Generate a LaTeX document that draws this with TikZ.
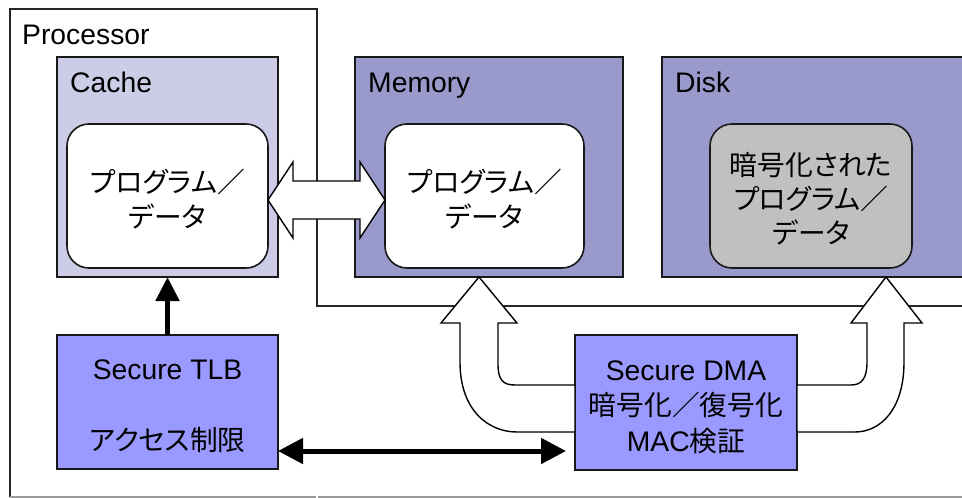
\documentclass[tikz,border=0pt]{standalone}
\usepackage{fontspec}
\setmainfont{Liberation Sans}
\newfontfamily\jp[Scale=0.98,RawFeature={+palt}]{Noto Sans CJK JP}
\usetikzlibrary{arrows.meta,calc}

\definecolor{cachefill}{RGB}{204,204,230}
\definecolor{storefill}{RGB}{153,153,204}
\definecolor{unitfill}{RGB}{153,153,255}
\definecolor{encfill}{RGB}{192,192,192}

% strut that lowers a centred text block slightly
\newcommand\firstline{\rule{0pt}{29pt}}

\tikzset{
  box/.style={draw=black!90,line width=1.6pt,inner sep=0pt,outer sep=0pt},
  datablock/.style={box,rounded corners=22pt,align=center,
    font=\fontsize{28.3}{35}\selectfont},
  unit/.style={box,fill=unitfill,align=center,
    font=\fontsize{28.3}{35.5}\selectfont},
  title/.style={anchor=base west,inner sep=0pt,font=\fontsize{28.3}{32}\selectfont},
  blockarrow/.style={draw=black,fill=white,line width=1.4pt,line join=miter},
  ctrlarrow/.style={line width=5pt,{Triangle[length=25pt,width=25pt]}-{Triangle[length=25pt,width=25pt]}},
  uparrow/.style={line width=5pt,-{Triangle[length=24pt,width=23pt]}},
}

\begin{document}
\begin{tikzpicture}[x=1pt,y=-1pt]
\useasboundingbox (0,0) rectangle (962,498);
\clip (0,0) rectangle (962,498);

% processor boundary
\draw[line width=1.4pt,black!85] (10,497) -- (10,9) -- (317,9) -- (317,306) -- (962,306);
\draw[line width=1.4pt,black!40] (10,497) -- (316,497) (318,497) -- (962,497);
\node[title] (proc) at (22,44) {Processor};

% storage levels
\node[box,fill=cachefill,minimum width=221pt,minimum height=220pt] (cache) at (167.5,167) {};
\node[box,fill=storefill,minimum width=268pt,minimum height=220pt] (mem) at (489,167) {};
\node[box,fill=storefill,minimum width=313pt,minimum height=220pt] (disk) at (818.5,167) {};
\node[title] (cachelbl) at (70,92) {Cache};
\node[title] (memlbl) at (368,92) {Memory};
\node[title] (disklbl) at (675,92) {Disk};

\node[datablock,fill=white,minimum width=201pt,minimum height=144pt] (cachein) at (167.5,196)
  {\firstline{\jp プログラム／}\\{\jp データ}};
\node[datablock,fill=white,minimum width=199pt,minimum height=144pt] (memin) at (484.5,196)
  {\firstline{\jp プログラム／}\\{\jp データ}};
\node[datablock,fill=encfill,minimum width=202pt,minimum height=144pt,
  font=\fontsize{28.3}{34}\selectfont] (diskin) at (811,196)
  {\firstline{\jp 暗号化された}\\{\jp プログラム／}\\{\jp データ}};

% security units
\node[unit,minimum width=221pt,minimum height=134pt] (tlb) at (167.5,402)
  {\firstline Secure TLB\\ \\{\jp アクセス制限}};
\node[unit,minimum width=222pt,minimum height=135pt] (dma) at (686,402.5)
  {\firstline Secure DMA\\{\jp 暗号化／復号化}\\MAC{\jp 検証}};

% cache <-> memory transfer
\coordinate (la) at ($(cachein.east)+(0,4)$);
\coordinate (ra) at ($(memin.west)+(0,4)$);
\draw[blockarrow] (la) -- ++(25,-38) -- ++(0,19) -- ($(ra)+(-25,-19)$) -- ++(0,-19)
  -- (ra) -- ++(-25,38) -- ++(0,-19) -- ($(la)+(25,19)$) -- ++(0,19) -- cycle;

% DMA -> memory
\coordinate (mt) at (mem.south -| 479,0);
\draw[blockarrow] (dma.west |- 0,432) -- (517,432)
  .. controls (488,432) and (460,410) .. (460,362) -- (460,323) -- (441,323)
  -- (mt) -- (517,323) -- (498,323) -- (498,364)
  .. controls (498,380) and (503,385) .. (515,385) -- (dma.west |- 0,385) -- cycle;

% DMA -> disk
\coordinate (dt) at (disk.south -| 886,0);
\draw[blockarrow] (dma.east |- 0,385) -- (851,385)
  .. controls (862,385) and (867,378) .. (867,362) -- (867,323) -- (851,323)
  -- (dt) -- (922,323) -- (904,323) -- (904,362)
  .. controls (904,410) and (880,432) .. (855,432) -- (dma.east |- 0,432) -- cycle;

% control paths
\draw[uparrow] (tlb.north) -- (cache.south);
\draw[ctrlarrow] (tlb.east |- 0,451) -- ($(dma.west |- 0,451)+(-9,0)$);
\end{tikzpicture}
\end{document}
